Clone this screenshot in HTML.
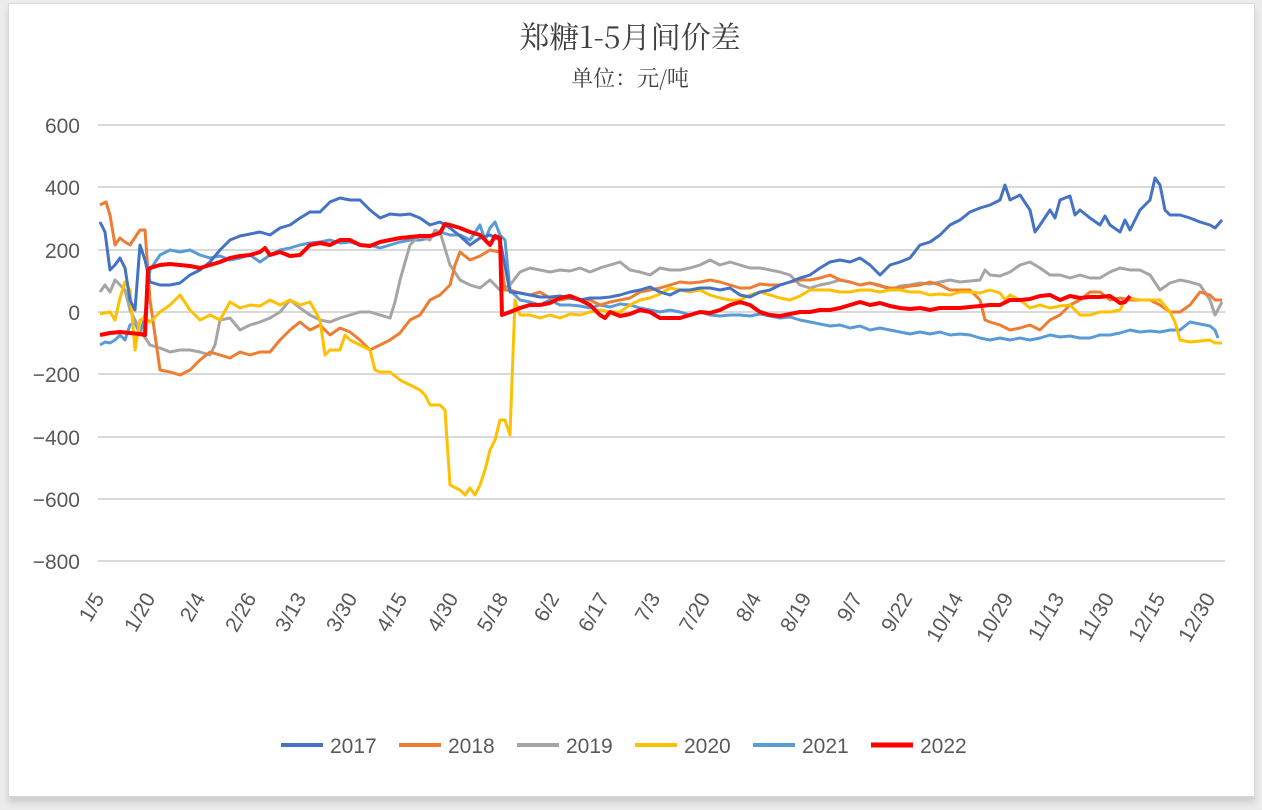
<!DOCTYPE html>
<html><head><meta charset="utf-8"><style>
html,body{margin:0;padding:0;background:#e9e9e9;}
.wrap{position:absolute;left:0;top:0;width:1262px;height:810px;overflow:hidden;background:#ececec;}
.card{position:absolute;left:8px;top:3px;width:1245px;height:792px;background:#fff;border:1px solid #d9d9d9;box-shadow:0 6px 6px rgba(0,0,0,0.12);}
svg{position:absolute;left:0;top:0;}
text{font-family:"Liberation Sans","Noto Sans CJK SC",sans-serif;fill:#595959;}
</style></head><body><div class="wrap"><div class="card"></div>
<svg width="1262" height="810" viewBox="0 0 1262 810">
<text x="630" y="48" text-anchor="middle" font-size="30" fill="#404040" style="fill:#404040;font-family:'Noto Serif CJK SC','Liberation Sans',serif">郑糖1-5月间价差</text>
<text x="630" y="86" text-anchor="middle" font-size="22" style="fill:#404040;font-family:'Noto Serif CJK SC','Liberation Sans',serif">单位：元/吨</text>
<g stroke="#d9d9d9" stroke-width="2">
<line x1="98" y1="125" x2="1225" y2="125"/><line x1="98" y1="187" x2="1225" y2="187"/><line x1="98" y1="250" x2="1225" y2="250"/><line x1="98" y1="312" x2="1225" y2="312"/><line x1="98" y1="374" x2="1225" y2="374"/><line x1="98" y1="437" x2="1225" y2="437"/><line x1="98" y1="499" x2="1225" y2="499"/><line x1="98" y1="561" x2="1225" y2="561"/>
</g>
<g font-size="21" text-anchor="end">
<text x="80" y="133">600</text><text x="80" y="195">400</text><text x="80" y="258">200</text><text x="80" y="320">0</text><text x="80" y="382">−200</text><text x="80" y="445">−400</text><text x="80" y="507">−600</text><text x="80" y="569">−800</text>
</g>
<g font-size="21" text-anchor="end">
<text transform="translate(105,598) rotate(-60)">1/5</text>
<text transform="translate(156,598) rotate(-60)">1/20</text>
<text transform="translate(206,598) rotate(-60)">2/4</text>
<text transform="translate(257,598) rotate(-60)">2/26</text>
<text transform="translate(307,598) rotate(-60)">3/13</text>
<text transform="translate(358,598) rotate(-60)">3/30</text>
<text transform="translate(408,598) rotate(-60)">4/15</text>
<text transform="translate(459,598) rotate(-60)">4/30</text>
<text transform="translate(509,598) rotate(-60)">5/18</text>
<text transform="translate(560,598) rotate(-60)">6/2</text>
<text transform="translate(610,598) rotate(-60)">6/17</text>
<text transform="translate(661,598) rotate(-60)">7/3</text>
<text transform="translate(711,598) rotate(-60)">7/20</text>
<text transform="translate(762,598) rotate(-60)">8/4</text>
<text transform="translate(812,598) rotate(-60)">8/19</text>
<text transform="translate(863,598) rotate(-60)">9/7</text>
<text transform="translate(913,598) rotate(-60)">9/22</text>
<text transform="translate(964,598) rotate(-60)">10/14</text>
<text transform="translate(1014,598) rotate(-60)">10/29</text>
<text transform="translate(1065,598) rotate(-60)">11/13</text>
<text transform="translate(1115,598) rotate(-60)">11/30</text>
<text transform="translate(1166,598) rotate(-60)">12/15</text>
<text transform="translate(1216,598) rotate(-60)">12/30</text>
</g>
<g fill="none" stroke-width="3" stroke-linejoin="round">
<polyline stroke="#5B9BD5" points="100,345 105,342 110,343 115,340 120,335 125,340 130,325 135,322 140,335 145,315 150,270 160,255 170,250 180,252 190,250 200,255 210,258 220,256 230,260 240,258 250,255 260,262 270,255 280,250 290,248 300,245 310,243 320,242 330,240 340,243 350,242 360,245 370,245 380,248 390,245 400,242 410,240 420,240 430,238 440,232 450,235 460,235 470,240 480,225 485,240 490,228 495,222 500,235 505,240 510,290 520,300 530,302 540,305 550,300 560,305 570,305 580,306 590,308 600,305 610,307 620,304 630,305 640,308 650,310 660,312 670,310 680,312 690,315 700,312 710,315 720,316 730,315 740,315 750,316 760,314 770,316 780,318 790,317 800,320 810,322 820,324 830,326 840,325 850,328 860,326 870,330 880,328 890,330 900,332 910,334 920,332 930,334 940,332 950,335 960,334 970,335 980,338 990,340 1000,338 1010,340 1020,338 1030,340 1040,338 1050,335 1060,337 1070,336 1080,338 1090,338 1100,335 1110,335 1120,333 1130,330 1140,332 1150,331 1160,332 1170,330 1180,330 1185,326 1190,322 1200,324 1210,326 1215,330 1218,338"/>
<polyline stroke="#A5A5A5" points="100,292 105,285 110,292 115,280 120,285 125,290 130,310 140,330 150,345 160,348 170,352 180,350 190,350 200,352 210,355 215,345 220,320 230,318 240,330 250,325 260,322 270,318 280,312 290,300 300,308 310,315 320,320 330,322 340,318 350,315 360,312 370,312 380,315 390,318 395,302 400,280 410,245 415,240 420,235 425,238 430,240 435,230 440,232 450,265 460,280 470,285 480,288 490,280 500,290 510,285 520,272 530,268 540,270 550,272 560,270 570,271 580,268 590,272 600,268 610,265 620,262 630,270 640,272 650,275 660,268 670,270 680,270 690,268 700,265 710,260 720,265 730,262 740,265 750,268 760,268 770,270 780,272 790,275 800,285 810,288 820,285 830,283 840,280 850,282 860,285 870,283 880,285 890,290 900,286 910,285 920,283 930,284 940,282 950,280 960,282 970,281 980,280 985,270 990,275 1000,276 1010,272 1020,265 1030,262 1040,268 1050,275 1060,275 1070,278 1080,275 1090,278 1100,278 1110,272 1120,268 1130,270 1140,270 1150,275 1160,290 1170,283 1180,280 1190,282 1200,285 1210,300 1215,315 1222,302"/>
<polyline stroke="#ED7D31" points="100,205 106,202 110,215 115,245 120,238 125,242 130,245 140,230 145,230 150,300 160,370 170,372 180,375 190,370 200,360 210,352 220,355 230,358 240,352 250,355 260,352 270,352 280,340 290,330 300,322 310,330 320,325 330,335 340,328 350,332 360,340 370,350 380,345 390,340 400,333 410,320 420,315 430,300 440,295 450,285 455,265 460,252 470,260 480,256 490,250 500,252 505,290 510,290 520,293 530,295 540,292 550,298 560,300 570,298 580,300 590,300 600,305 610,302 620,300 630,298 640,292 650,290 660,288 670,285 680,282 690,283 700,282 710,280 720,282 730,285 740,288 750,288 760,284 770,285 780,285 790,282 800,280 810,280 820,278 830,275 840,280 850,282 860,285 870,283 880,286 890,288 900,288 910,286 920,285 930,282 940,285 950,290 960,290 970,290 980,300 985,320 990,322 1000,325 1010,330 1020,328 1030,325 1040,330 1050,320 1060,315 1070,305 1080,300 1090,292 1100,292 1110,300 1120,298 1130,300 1140,300 1150,300 1160,305 1170,312 1180,312 1190,305 1200,292 1210,295 1215,300 1222,300"/>
<polyline stroke="#FFC000" points="100,314 110,312 115,320 120,298 125,282 130,290 135,350 140,320 145,318 150,322 160,312 170,305 180,295 190,310 200,320 210,315 220,320 230,302 240,308 250,305 260,306 270,300 280,305 290,300 300,305 310,302 320,320 325,355 330,350 340,350 345,335 350,340 360,345 370,350 375,370 380,372 390,372 400,380 410,385 420,390 425,395 430,405 440,405 445,410 450,485 460,490 465,495 470,488 475,495 480,485 485,470 490,450 495,440 500,420 505,420 510,435 515,300 520,315 530,315 540,318 550,315 560,318 570,314 580,315 590,312 600,310 610,312 620,312 630,305 640,300 650,298 660,294 670,288 680,290 690,292 700,290 710,295 720,298 730,300 740,300 750,295 760,292 770,295 780,298 790,300 800,296 810,290 820,290 830,290 840,292 850,292 860,290 870,290 880,292 890,290 900,290 910,292 920,292 930,295 940,294 950,295 960,292 970,292 980,293 990,290 1000,293 1005,300 1010,295 1020,300 1030,308 1040,305 1050,308 1060,306 1070,305 1080,315 1090,315 1100,312 1110,312 1120,310 1125,300 1130,298 1140,300 1150,300 1160,300 1170,312 1175,322 1180,340 1190,342 1200,341 1210,340 1215,343 1222,343"/>
<polyline stroke="#4472C4" points="100,222 105,232 110,270 115,265 120,258 125,268 130,300 135,310 140,245 145,260 150,282 160,285 170,285 180,283 190,275 200,270 210,262 220,250 230,240 240,236 250,234 260,232 270,235 280,228 290,225 300,218 310,212 320,212 330,202 340,198 350,200 360,200 370,210 380,218 390,214 400,215 410,214 420,218 430,225 440,222 450,228 460,236 470,245 480,238 490,235 500,240 510,292 520,293 530,295 540,297 550,297 560,296 570,298 580,300 590,298 600,298 610,297 620,295 630,292 640,290 650,287 660,292 670,295 680,290 690,290 700,288 710,288 720,290 730,288 740,295 750,297 760,292 770,290 780,285 790,282 800,278 810,275 820,268 830,262 840,260 850,262 860,258 870,265 880,275 890,265 900,262 910,258 920,245 930,242 940,235 950,225 960,220 970,212 980,208 990,205 1000,200 1005,185 1010,200 1020,195 1030,210 1035,232 1040,225 1050,210 1055,218 1060,200 1070,196 1075,215 1080,210 1090,218 1100,225 1105,216 1110,225 1120,232 1125,220 1130,230 1140,210 1145,205 1150,200 1155,178 1160,185 1165,210 1170,215 1180,215 1190,218 1200,222 1210,225 1215,228 1222,220"/>
<polyline stroke="#FF0000" stroke-width="4" points="100,335 110,333 120,332 130,333 140,334 145,335 148,270 150,268 160,265 170,264 180,265 190,266 200,268 210,265 220,262 230,258 240,256 250,255 260,252 265,248 270,255 280,252 290,256 300,255 310,245 320,243 330,245 340,240 350,240 360,245 370,246 380,242 390,240 400,238 410,237 420,236 430,236 440,233 445,224 450,225 460,228 470,232 480,235 490,245 495,236 500,238 502,315 510,312 520,308 530,305 540,305 550,303 560,298 570,296 580,300 590,305 600,315 605,318 610,312 620,316 630,314 640,310 650,312 660,318 670,318 680,318 690,315 700,312 710,313 720,310 730,305 740,302 750,305 760,312 770,315 780,316 790,314 800,312 810,312 820,310 830,310 840,308 850,305 860,302 870,305 880,303 890,306 900,308 910,309 920,308 930,310 940,308 950,308 960,308 970,307 980,306 990,305 1000,305 1010,300 1020,300 1030,299 1040,296 1050,295 1060,300 1070,296 1080,298 1090,297 1100,297 1110,296 1120,303 1125,302 1130,296"/>
</g>
<g font-size="21">
<line x1="281" y1="745" x2="323" y2="745" stroke="#4472C4" stroke-width="4"/><text x="330" y="753">2017</text>
<line x1="399" y1="745" x2="441" y2="745" stroke="#ED7D31" stroke-width="4"/><text x="448" y="753">2018</text>
<line x1="517" y1="745" x2="559" y2="745" stroke="#A5A5A5" stroke-width="4"/><text x="566" y="753">2019</text>
<line x1="635" y1="745" x2="677" y2="745" stroke="#FFC000" stroke-width="4"/><text x="684" y="753">2020</text>
<line x1="753" y1="745" x2="795" y2="745" stroke="#5B9BD5" stroke-width="4"/><text x="802" y="753">2021</text>
<line x1="871" y1="745" x2="913" y2="745" stroke="#FF0000" stroke-width="5"/><text x="920" y="753">2022</text>
</g>
</svg></div></body></html>
